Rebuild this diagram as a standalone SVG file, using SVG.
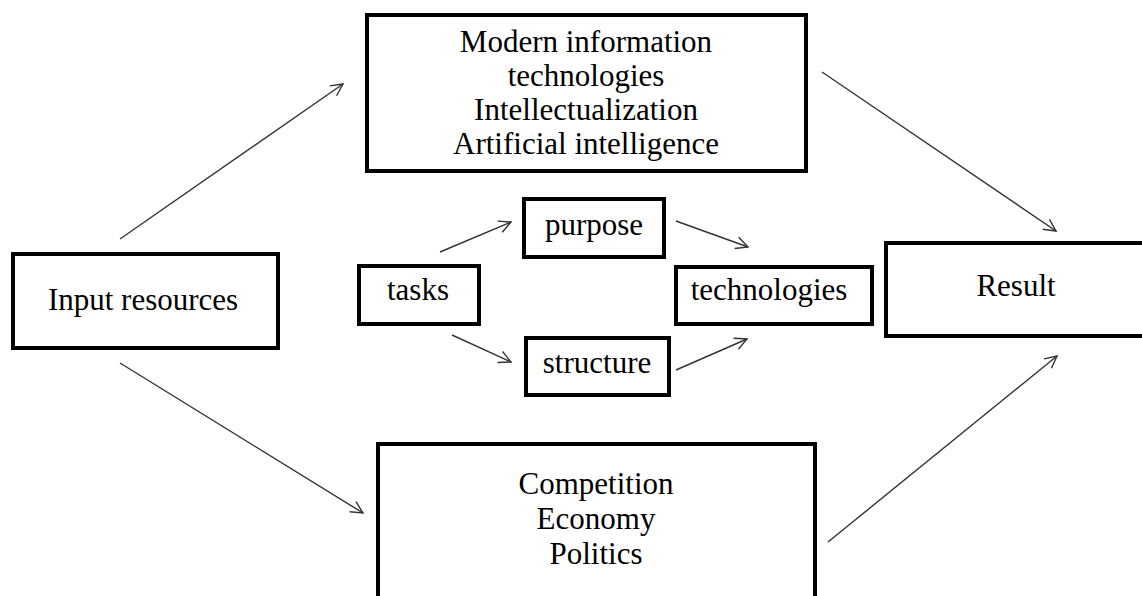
<svg xmlns="http://www.w3.org/2000/svg" width="1142" height="596" viewBox="0 0 1142 596">
<style>
.box{fill:#fff;stroke:#000;stroke-width:4;}
.t{font-family:"Liberation Serif","Times New Roman",serif;font-size:31px;fill:#000;text-anchor:middle;}
.c{stroke:#333;stroke-width:1.4;fill:none;marker-end:url(#ah);}
</style>
<defs>
<marker id="ah" viewBox="0 0 14 14" refX="13" refY="7" markerWidth="14" markerHeight="14" markerUnits="userSpaceOnUse" orient="auto">
<path d="M1,1 L13,7 L1,13" fill="none" stroke="#333" stroke-width="1.4"/>
</marker>
</defs>
<rect width="1142" height="596" fill="#fff"/>
<g id="modern">
<rect class="box" x="367" y="15" width="439" height="156"/>
<text class="t" x="586" y="52">Modern information</text>
<text class="t" x="586" y="86">technologies</text>
<text class="t" x="586" y="120">Intellectualization</text>
<text class="t" x="586" y="154">Artificial intelligence</text>
</g>
<g id="input">
<rect class="box" x="13" y="254" width="265" height="94"/>
<text class="t" x="143" y="310">Input resources</text>
</g>
<g id="tasks">
<rect class="box" x="359" y="266" width="120" height="58"/>
<text class="t" x="418" y="300">tasks</text>
</g>
<g id="purpose">
<rect class="box" x="524" y="199" width="140" height="58"/>
<text class="t" x="594" y="235">purpose</text>
</g>
<g id="structure">
<rect class="box" x="526" y="338" width="143" height="57"/>
<text class="t" x="597" y="373">structure</text>
</g>
<g id="technologies">
<rect class="box" x="676" y="267" width="196" height="57"/>
<text class="t" x="769" y="300">technologies</text>
</g>
<g id="result">
<rect class="box" x="886" y="243" width="270" height="93"/>
<text class="t" x="1016" y="296">Result</text>
</g>
<g id="competition">
<rect class="box" x="378" y="444" width="437" height="200"/>
<text class="t" x="596" y="494">Competition</text>
<text class="t" x="596" y="529">Economy</text>
<text class="t" x="596" y="564">Politics</text>
</g>
<g id="connectors">
<line class="c" x1="120" y1="239" x2="343" y2="84"/>
<line class="c" x1="120" y1="363" x2="363" y2="513"/>
<line class="c" x1="822" y1="72" x2="1056" y2="231"/>
<line class="c" x1="828" y1="542" x2="1057" y2="356"/>
<line class="c" x1="440" y1="252" x2="511" y2="222"/>
<line class="c" x1="452" y1="335" x2="511" y2="362"/>
<line class="c" x1="676" y1="221" x2="748" y2="247"/>
<line class="c" x1="676" y1="370" x2="747" y2="339"/>
</g>
</svg>
